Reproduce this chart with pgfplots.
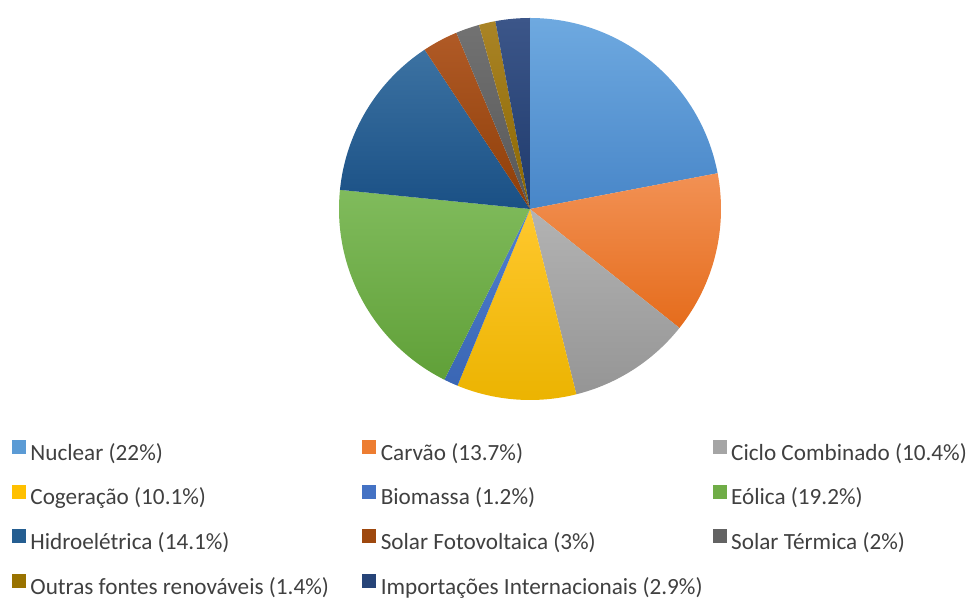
\documentclass[border=0pt]{standalone}
\usepackage{pgfplots}
\usepackage{pgfplotstable}
\pgfplotsset{compat=1.18}
\usepackage{fontspec}
\setmainfont{Carlito}
\definecolor{txt}{HTML}{404040}
% base colours
\definecolor{c0}{HTML}{5B9BD5}\definecolor{t0}{HTML}{6EA9E0}\definecolor{b0}{HTML}{4886C8}
\definecolor{c1}{HTML}{ED7D31}\definecolor{t1}{HTML}{F29154}\definecolor{b1}{HTML}{E56C1C}
\definecolor{c2}{HTML}{A5A5A5}\definecolor{t2}{HTML}{B3B3B3}\definecolor{b2}{HTML}{959595}
\definecolor{c3}{HTML}{FFC000}\definecolor{t3}{HTML}{FFC82E}\definecolor{b3}{HTML}{EBB300}
\definecolor{c4}{HTML}{4472C4}\definecolor{t4}{HTML}{5080D0}\definecolor{b4}{HTML}{3A66B4}
\definecolor{c5}{HTML}{70AD47}\definecolor{t5}{HTML}{80BB5C}\definecolor{b5}{HTML}{60A038}
\definecolor{c6}{HTML}{255E91}\definecolor{t6}{HTML}{3C72A2}\definecolor{b6}{HTML}{1A5085}
\definecolor{c7}{HTML}{9E480E}\definecolor{t7}{HTML}{B05A26}\definecolor{b7}{HTML}{8E3E08}
\definecolor{c8}{HTML}{636363}\definecolor{t8}{HTML}{727272}\definecolor{b8}{HTML}{575757}
\definecolor{c9}{HTML}{997300}\definecolor{t9}{HTML}{AA8426}\definecolor{b9}{HTML}{8A6600}
\definecolor{c10}{HTML}{264478}\definecolor{t10}{HTML}{3C5689}\definecolor{b10}{HTML}{1E3A6C}
\pgfplotsset{sq/.style={legend image code/.code={\fill[#1] (0pt,0.5pt) rectangle (13pt,13.5pt);}}}
\newcommand{\lb}[1]{\makebox[322pt][l]{#1}}
\pgfplotstableread{
v
22
13.7
10.4
10.1
1.2
19.2
14.1
3
2
1.4
2.9
}\piedata
\begin{document}
\begin{tikzpicture}
\gdef\cum{0}
\foreach \i in {0,...,10} {%
  \pgfplotstablegetelem{\i}{v}\of\piedata
  \pgfmathsetmacro\a{90-3.6*\cum}%
  \pgfmathsetmacro\b{90-3.6*(\cum+\pgfplotsretval)}%
  \expandafter\xdef\csname sS\i\endcsname{\a}%
  \expandafter\xdef\csname sE\i\endcsname{\b}%
  \pgfmathsetmacro\nc{\cum+\pgfplotsretval}%
  \xdef\cum{\nc}%
}
\begin{axis}[
  width=972pt, height=599pt, scale only axis,
  xmin=0, xmax=972, ymin=0, ymax=599,
  hide axis, clip=false,
  legend columns=3, legend cell align=left,
  legend style={draw=none, fill=none, inner sep=0pt, outer sep=0pt,
    at={(axis cs:12,159)}, anchor=north west,
    font=\fontsize{23.2}{27}\selectfont, text=txt,
    nodes={inner sep=0pt, text height=18pt, text depth=5pt},
    row sep=19.5pt,
    /tikz/every odd column/.append style={column sep=5pt},
    /tikz/every even column/.append style={column sep=10pt}},
]
\path (axis cs:0,0) rectangle (axis cs:972,599);
\pgfplotsinvokeforeach{0,...,10}{%
  \shade[top color=t#1, bottom color=b#1]
    (axis cs:530,390) -- ++(\csname sS#1\endcsname:191pt)
    arc[start angle=\csname sS#1\endcsname, end angle=\csname sE#1\endcsname, radius=191pt] -- cycle;
}
\addlegendimage{sq=c0}\addlegendentry{\lb{Nuclear (22\%)}}
\addlegendimage{sq=c1}\addlegendentry{\lb{Carvão (13.7\%)}}
\addlegendimage{sq=c2}\addlegendentry{Ciclo Combinado (10.4\%)}
\addlegendimage{sq=c3}\addlegendentry{\lb{Cogeração (10.1\%)}}
\addlegendimage{sq=c4}\addlegendentry{\lb{Biomassa (1.2\%)}}
\addlegendimage{sq=c5}\addlegendentry{Eólica (19.2\%)}
\addlegendimage{sq=c6}\addlegendentry{\lb{Hidroelétrica (14.1\%)}}
\addlegendimage{sq=c7}\addlegendentry{\lb{Solar Fotovoltaica (3\%)}}
\addlegendimage{sq=c8}\addlegendentry{Solar Térmica (2\%)}
\addlegendimage{sq=c9}\addlegendentry{\lb{Outras fontes renováveis (1.4\%)}}
\addlegendimage{sq=c10}\addlegendentry{\lb{Importações Internacionais (2.9\%)}}
\end{axis}
\pgfresetboundingbox
\path (0,0) rectangle (972pt,599pt);
\end{tikzpicture}
\end{document}
